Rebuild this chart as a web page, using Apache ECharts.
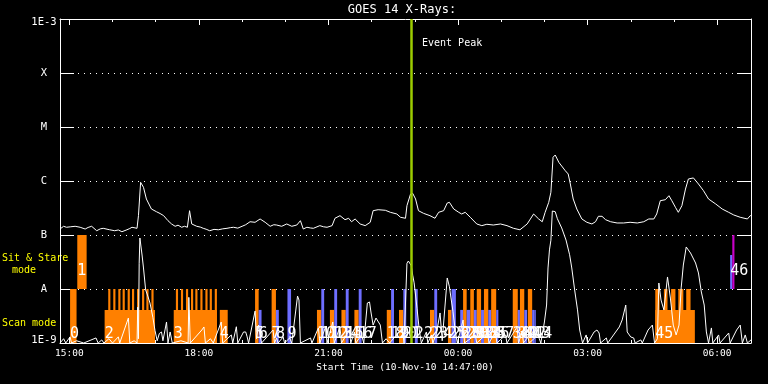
<!DOCTYPE html>
<html><head><meta charset="utf-8">
<script src="https://cdn.jsdelivr.net/npm/echarts@6/dist/echarts.min.js"></script>
<style>html,body{margin:0;padding:0;background:#000}#c{width:768px;height:384px}</style>
</head><body><div id="c"></div>
<script>
// ---------- DATA ----------
const titleText = "GOES 14 X-Rays:";
const xAxisTitle = "Start Time (10-Nov-10 14:47:00)";
const axisStart = "14:47", axisEnd = "06:47";
const xTickLabels = ["15:00","18:00","21:00","00:00","03:00","06:00"];
const xMinorTicks = ["15:00","16:00","17:00","18:00","19:00","20:00","21:00","22:00","23:00","00:00","01:00","02:00","03:00","04:00","05:00","06:00"];
const yClassLabels = {"-3":"1E-3","-4":"X","-5":"M","-6":"C","-7":"B","-8":"A","-9":"1E-9"};
const eventPeakTime = "22:55";

// GOES 1-8 A flux (W/m^2)
const fluxTimes = ["14:47","14:52","14:56","15:02","15:08","15:15","15:22","15:26","15:31","15:38","15:43","15:47","15:56","16:03","16:08","16:13","16:20","16:24","16:27","16:34","16:36","16:39","16:43","16:47","16:54","17:01","17:06","17:11","17:17","17:22","17:27","17:31","17:36","17:40","17:44","17:47","17:50","17:57","18:02","18:06","18:10","18:15","18:21","18:27","18:33","18:39","18:44","18:48","18:54","19:00","19:05","19:11","19:18","19:25","19:32","19:39","19:44","19:48","19:55","20:02","20:09","20:16","20:21","20:25","20:30","20:35","20:39","20:48","20:53","20:58","21:05","21:09","21:16","21:23","21:28","21:32","21:37","21:44","21:51","21:58","22:02","22:09","22:19","22:26","22:35","22:40","22:47","22:49","22:54","22:57","23:01","23:05","23:12","23:21","23:28","23:33","23:40","23:45","23:48","23:54","00:01","00:05","00:10","00:17","00:26","00:33","00:40","00:49","00:59","01:08","01:17","01:26","01:36","01:45","01:52","01:57","02:01","02:06","02:09","02:12","02:15","02:20","02:29","02:33","02:36","02:40","02:45","02:52","02:59","03:06","03:11","03:15","03:20","03:25","03:32","03:41","03:50","03:59","04:09","04:18","04:25","04:32","04:36","04:41","04:48","04:53","04:57","05:02","05:06","05:11","05:16","05:20","05:27","05:34","05:41","05:48","05:58","06:07","06:16","06:23","06:32","06:42","06:46","06:47"];
const fluxValues = [1.29e-7,1.45e-7,1.39e-7,1.42e-7,1.45e-7,1.39e-7,1.29e-7,1.38e-7,1.45e-7,1.2e-7,1.3e-7,1.33e-7,1.25e-7,1.2e-7,1.24e-7,1.15e-7,1.25e-7,1.32e-7,1.39e-7,1.33e-7,2.28e-7,9.46e-7,7.64e-7,4.64e-7,3.03e-7,2.7e-7,2.5e-7,2.28e-7,1.84e-7,1.6e-7,1.45e-7,1.52e-7,1.39e-7,1.45e-7,1.39e-7,2.82e-7,1.6e-7,1.45e-7,1.4e-7,1.33e-7,1.28e-7,1.2e-7,1.27e-7,1.25e-7,1.3e-7,1.33e-7,1.37e-7,1.39e-7,1.34e-7,1.45e-7,1.55e-7,1.76e-7,1.72e-7,1.98e-7,1.72e-7,1.45e-7,1.55e-7,1.53e-7,1.45e-7,1.6e-7,1.45e-7,1.53e-7,1.84e-7,1.29e-7,1.39e-7,1.35e-7,1.33e-7,1.49e-7,1.42e-7,1.39e-7,1.49e-7,2.04e-7,2.28e-7,1.92e-7,2.04e-7,1.76e-7,1.98e-7,1.6e-7,1.49e-7,1.72e-7,2.82e-7,2.94e-7,2.87e-7,2.63e-7,2.45e-7,2.13e-7,2.04e-7,3.49e-7,5.74e-7,5.91e-7,4.64e-7,2.82e-7,2.52e-7,2.28e-7,2.04e-7,2.63e-7,2.82e-7,3.91e-7,4.03e-7,3.03e-7,2.63e-7,2.45e-7,2.63e-7,2.13e-7,1.6e-7,1.49e-7,1.58e-7,1.53e-7,1.6e-7,1.49e-7,1.33e-7,1.25e-7,1.6e-7,2.45e-7,1.98e-7,1.76e-7,2.63e-7,4.03e-7,6.18e-7,2.75e-6,3.03e-6,2.22e-6,1.55e-6,1.35e-6,8.8e-7,4.64e-7,3.03e-7,1.98e-7,1.72e-7,1.6e-7,1.76e-7,2.22e-7,2.22e-7,1.92e-7,1.76e-7,1.67e-7,1.67e-7,1.72e-7,1.67e-7,1.76e-7,1.98e-7,1.98e-7,2.45e-7,4.32e-7,4.5e-7,5.34e-7,4.32e-7,3.26e-7,2.63e-7,3.49e-7,7.1e-7,1.09e-6,1.14e-6,8.8e-7,6.61e-7,4.64e-7,3.75e-7,3.03e-7,2.63e-7,2.35e-7,2.13e-7,1.98e-7,2.28e-7,2.28e-7];

// second (detail) curve drawn in the lower panel
const detailTimes = ["14:47","14:52","14:55","15:01","15:03","15:10","15:20","15:37","15:40","15:45","15:48","15:55","16:00","16:08","16:10","16:22","16:24","16:30","16:34","16:35","16:36","16:37","16:38","16:41","16:43","16:46","16:49","16:52","16:56","16:59","17:02","17:05","17:08","17:10","17:15","17:17","17:20","17:23","17:35","17:45","17:46","17:48","18:04","18:07","18:09","18:16","18:20","18:31","18:33","18:45","18:47","18:52","18:54","19:02","19:05","19:07","19:09","19:18","19:20","19:23","19:25","19:27","19:43","19:45","19:48","19:50","19:57","19:59","20:06","20:09","20:17","20:19","20:21","20:35","20:37","20:46","20:48","20:56","20:58","21:06","21:08","21:12","21:16","21:18","21:29","21:31","21:36","21:38","21:46","21:49","21:54","21:57","21:59","22:02","22:06","22:12","22:15","22:20","22:25","22:43","22:45","22:49","22:51","22:53","22:55","22:57","22:59","23:03","23:06","23:09","23:16","23:18","23:23","23:25","23:30","23:35","23:38","23:45","23:48","23:50","23:53","23:56","23:59","00:07","00:09","00:24","00:26","00:41","00:43","00:52","00:54","01:06","01:08","01:22","01:24","01:29","01:31","01:37","01:39","01:51","01:55","02:00","02:03","02:05","02:07","02:09","02:11","02:15","02:18","02:24","02:30","02:35","02:38","02:42","02:46","02:49","02:53","02:58","03:00","03:09","03:13","03:16","03:18","03:26","03:28","03:44","03:48","03:53","03:55","04:00","04:04","04:06","04:14","04:16","04:24","04:30","04:33","04:37","04:39","04:42","04:46","04:51","04:55","04:59","05:03","05:07","05:10","05:13","05:17","05:23","05:30","05:34","05:38","05:42","05:45","05:48","05:52","05:54","06:02","06:04","06:16","06:18","06:27","06:32","06:35","06:39","06:42","06:47"];
const detailValues = [1.0e-9,1.2e-9,1.0e-9,1.3e-9,1.0e-9,1.1e-9,1.0e-9,1.24e-9,1.0e-9,1.14e-9,1.0e-9,1.2e-9,1.0e-9,1.3e-9,1.0e-9,2.9e-9,1.0e-9,1.1e-9,1.0e-9,4.6e-9,1.2e-9,3.0e-8,8.8e-8,4.26e-8,2.45e-8,9.6e-9,7.4e-9,5.5e-9,3.0e-9,1.7e-9,1.1e-9,1.5e-9,1.6e-9,1.1e-9,2.45e-9,1.0e-9,1.6e-9,1.0e-9,1.1e-9,1.0e-9,7.0e-9,1.0e-9,1.74e-9,1.98e-9,1.0e-9,1.2e-9,1.0e-9,2.45e-9,1.0e-9,1.41e-9,1.0e-9,2.0e-9,1.0e-9,1.6e-9,1.6e-9,1.3e-9,1.0e-9,3.9e-9,1.2e-9,2.15e-9,1.4e-9,1.0e-9,1.74e-9,1.0e-9,1.24e-9,1.0e-9,1.29e-9,1.0e-9,1.24e-9,1.0e-9,7.4e-9,6.25e-9,1.0e-9,1.24e-9,1.0e-9,1.9e-9,1.0e-9,2.0e-9,1.0e-9,2.45e-9,1.0e-9,1.41e-9,2.0e-9,1.0e-9,1.74e-9,1.0e-9,1.6e-9,1.0e-9,1.41e-9,1.0e-9,5.5e-9,5.75e-9,3.75e-9,2.15e-9,2.9e-9,2.15e-9,1.0e-9,1.2e-9,1.0e-9,1.9e-9,1.0e-9,3.0e-8,3.3e-8,3.1e-8,2.7e-8,1.8e-8,1.3e-8,4.4e-9,1.8e-9,1.0e-9,1.6e-9,1.0e-9,1.41e-9,1.0e-9,1.5e-9,3.6e-9,1.1e-9,1.6e-8,1.1e-8,7.1e-9,3.8e-9,1.74e-9,1.0e-9,2.67e-9,1.0e-9,1.41e-9,1.0e-9,1.53e-9,1.0e-9,1.6e-9,1.0e-9,1.41e-9,1.0e-9,1.98e-9,1.0e-9,1.6e-9,1.0e-9,1.29e-9,1.0e-9,1.41e-9,1.0e-9,2.45e-9,5.05e-9,2.45e-8,5.3e-8,8.0e-8,2.78e-7,2.7e-7,2.0e-7,1.35e-7,8.07e-8,4.3e-8,2.45e-8,9.6e-9,4.1e-9,1.74e-9,1.0e-9,1.41e-9,1.0e-9,1.6e-9,1.74e-9,1.53e-9,1.0e-9,1.24e-9,1.0e-9,1.98e-9,2.67e-9,5.05e-9,1.6e-9,1.29e-9,1.24e-9,1.0e-9,1.14e-9,1.0e-9,1.74e-9,2.15e-9,1.0e-9,1.2e-9,1.29e-8,6.25e-9,4.1e-9,1.67e-8,6.8e-9,2.15e-9,1.41e-9,2.15e-9,1.05e-8,2.78e-8,6.0e-8,4.64e-8,3.03e-8,1.98e-8,8.8e-9,5.05e-9,1.6e-9,1.0e-9,1.9e-9,1.0e-9,1.41e-9,1.0e-9,1.53e-9,1.0e-9,1.74e-9,2.15e-9,1.0e-9,1.41e-9,1.0e-9,1.14e-9];

// observation bars: start, end, lower flux, upper flux, kind
const barStart = ["15:01","15:11","15:49","15:54","16:01","16:08","16:14","16:21","16:27","16:34","16:41","16:47","16:54","17:25","17:28","17:35","17:42","17:49","17:55","18:02","18:09","18:15","18:22","18:29","19:18","19:23","19:41","19:47","20:03","20:44","20:50","21:02","21:08","21:18","21:24","21:36","21:42","22:21","22:27","22:38","22:44","23:00","23:21","23:27","23:46","23:51","00:03","00:07","00:12","00:17","00:22","00:26","00:32","00:36","00:42","00:46","00:53","01:16","01:23","01:26","01:32","01:37","01:43","01:46","04:34","04:34","04:46","04:56","05:06","05:17","06:18","06:21"];
const barEnd   = ["15:10","15:24","16:59","15:57","16:04","16:11","16:17","16:24","16:30","16:37","16:44","16:50","16:57","18:25","17:31","17:38","17:45","17:52","17:58","18:05","18:12","18:18","18:25","18:40","19:23","19:27","19:47","19:51","20:08","20:50","20:54","21:08","21:12","21:24","21:28","21:42","21:46","22:27","22:31","22:44","22:48","23:04","23:27","23:31","23:51","23:57","00:07","00:12","00:17","00:22","00:26","00:32","00:36","00:42","00:46","00:53","00:56","01:23","01:26","01:32","01:36","01:43","01:46","01:48","05:29","04:40","04:51","05:02","05:13","05:23","06:21","06:24"];
const barLow   = [1e-9,1e-8,1e-9,1e-9,1e-9,1e-9,1e-9,1e-9,1e-9,1e-9,1e-9,1e-9,1e-9,1e-9,1e-9,1e-9,1e-9,1e-9,1e-9,1e-9,1e-9,1e-9,1e-9,1e-9,1e-9,1e-9,1e-9,1e-9,1e-9,1e-9,1e-9,1e-9,1e-9,1e-9,1e-9,1e-9,1e-9,1e-9,1e-9,1e-9,1e-9,1e-9,1e-9,1e-9,1e-9,1e-9,1e-9,1e-9,1e-9,1e-9,1e-9,1e-9,1e-9,1e-9,1e-9,1e-9,1e-9,1e-9,1e-9,1e-9,1e-9,1e-9,1e-9,1e-9,1e-9,1e-9,1e-9,1e-9,1e-9,1e-9,1e-8,1e-8];
const barHigh  = [1e-8,1e-7,4.1e-9,1e-8,1e-8,1e-8,1e-8,1e-8,1e-8,1e-8,1e-8,1e-8,1e-8,4.1e-9,1e-8,1e-8,1e-8,1e-8,1e-8,1e-8,1e-8,1e-8,1e-8,4.1e-9,1e-8,4.1e-9,1e-8,4.1e-9,1e-8,4.1e-9,1e-8,4.1e-9,1e-8,4.1e-9,1e-8,4.1e-9,1e-8,4.1e-9,1e-8,4.1e-9,1e-8,1e-8,4.1e-9,1e-8,4.1e-9,1e-8,4.1e-9,1e-8,4.1e-9,1e-8,4.1e-9,1e-8,4.1e-9,1e-8,4.1e-9,1e-8,4.1e-9,1e-8,4.1e-9,1e-8,4.1e-9,1e-8,4.1e-9,4.1e-9,4.1e-9,1e-8,1e-8,1e-8,1e-8,1e-8,4.26e-8,1e-7];
const barKind  = ["scan","scan","scan","scan","scan","scan","scan","scan","scan","scan","scan","scan","scan","scan","scan","scan","scan","scan","scan","scan","scan","scan","scan","scan","scan","alt","scan","alt","alt","scan","alt","scan","alt","scan","alt","scan","alt","scan","alt","scan","alt","alt","scan","alt","scan","alt","alt","scan","alt","scan","alt","scan","alt","scan","alt","scan","alt","scan","alt","scan","alt","scan","alt","alt","scan","scan","scan","scan","scan","scan","alt","sit"];

// observation number labels
const labelText = ["0","1","2","3","4","5","6","7","8","9","10","11","12","13","14","15","16","17","18","19","20","21","22","23","24","25","26","27","28","29","30","31","32","33","34","35","36","37","38","39","40","41","42","43","44","45","46"];
const labelTime = ["15:01","15:11","15:49","17:25","18:29","19:18","19:23","19:41","19:47","20:03","20:44","20:50","21:02","21:08","21:18","21:24","21:36","21:42","22:21","22:27","22:38","22:44","23:00","23:21","23:27","23:46","23:51","00:03","00:07","00:12","00:17","00:22","00:26","00:32","00:36","00:42","00:46","00:53","01:16","01:23","01:26","01:32","01:37","01:43","01:46","04:34","06:18"];
const labelMode = ["scan","sit","scan","scan","scan","scan","scan","scan","scan","scan","scan","scan","scan","scan","scan","scan","scan","scan","scan","scan","scan","scan","scan","scan","scan","scan","scan","scan","scan","scan","scan","scan","scan","scan","scan","scan","scan","scan","scan","scan","scan","scan","scan","scan","scan","scan","sit"];
const labelFluxByMode = {scan: 1.47e-9, sit: 2.1e-8};

// ---------- HELPERS ----------
function toMin(t){ const p=t.split(':').map(Number); let v=p[0]*60+p[1]-900; if(p[0]<12) v+=1440; return v; }
function fmtTime(v){ let t=((v+900)%1440+1440)%1440; const h=Math.floor(t/60), m=Math.round(t%60); return String(h).padStart(2,'0')+':'+String(m).padStart(2,'0'); }
const FONT = '"DejaVu Sans Mono", monospace';
const WHITE = '#ffffff';
const KIND_COLOR = {scan:'#ff8000', alt:'#6e6eff', sit:'#c800c8'};
const X_MIN = toMin(axisStart), X_MAX = toMin(axisEnd);

const fluxData = fluxTimes.map((t,i)=>[toMin(t), fluxValues[i]]);
const detailData = detailTimes.map((t,i)=>[toMin(t), detailValues[i]]);
const barData = barStart.map((s,i)=>({value:[toMin(s), toMin(barEnd[i]), barLow[i], barHigh[i]], itemStyle:{color:KIND_COLOR[barKind[i]]}}));
const labelData = labelTime.map((t,i)=>[toMin(t), labelFluxByMode[labelMode[i]]]);

const majorVals = xTickLabels.map(toMin);
const minorVals = xMinorTicks.map(toMin);

function xAxisDef(pos, ticks, len, showLine, showLabel){
  return {type:'value', position:pos, min:X_MIN, max:X_MAX,
    axisLine:{show:showLine, onZero:false, lineStyle:{color:WHITE, width:1}},
    axisTick:{show:true, inside:true, length:len, customValues:ticks, lineStyle:{color:WHITE, width:1}},
    axisLabel:{show:showLabel, customValues:ticks, formatter:fmtTime, color:WHITE, fontFamily:FONT, fontSize:9.5, margin:6},
    splitLine:{show:false}};
}

const chart = echarts.init(document.getElementById('c'), null, {renderer:'canvas'});
chart.setOption({
  backgroundColor:'#000000',
  animation:false,
  grid:{left:60, right:17, top:19, bottom:41, containLabel:false},
  xAxis:[
    xAxisDef('bottom', majorVals, 6, true, true),
    xAxisDef('bottom', minorVals, 3, false, false),
    xAxisDef('top', majorVals, 6, true, false),
    xAxisDef('top', minorVals, 3, false, false)
  ],
  yAxis:[
    {type:'log', logBase:10, min:1e-9, max:1e-3, position:'left',
     axisLine:{show:true, onZero:false, lineStyle:{color:WHITE, width:1}},
     axisTick:{show:true, inside:true, length:14, lineStyle:{color:WHITE, width:1}},
     axisLabel:{color:WHITE, fontFamily:FONT, fontSize:10.5, align:'center', margin:16,
       formatter:function(v){ const e=Math.round(Math.log10(v)); const s=yClassLabels[String(e)]||''; if(e===-3) return '{t|'+s+'}'; if(e===-9) return '{b|'+s+'}'; return s; },
       rich:{t:{color:WHITE, fontFamily:FONT, fontSize:10.5, padding:[7,0,0,0]}, b:{color:WHITE, fontFamily:FONT, fontSize:10.5, padding:[0,0,6,0]}}},
     splitLine:{show:true, lineStyle:{color:WHITE, width:1, type:[1,5]}}},
    {type:'log', logBase:10, min:1e-9, max:1e-3, position:'right',
     axisLine:{show:true, onZero:false, lineStyle:{color:WHITE, width:1}},
     axisTick:{show:true, inside:true, length:14, lineStyle:{color:WHITE, width:1}},
     axisLabel:{show:false}, splitLine:{show:false}}
  ],
  graphic:[
    {type:'text', x:402, y:10, style:{text:titleText, fill:WHITE, font:'12px '+FONT, align:'center', verticalAlign:'middle'}},
    {type:'text', x:405, y:368, style:{text:xAxisTitle, fill:WHITE, font:'9.5px '+FONT, align:'center', verticalAlign:'middle'}},
    {type:'text', x:422, y:43, style:{text:'Event Peak', fill:WHITE, font:'10px '+FONT, align:'left', verticalAlign:'middle'}},
    {type:'text', x:2, y:258, style:{text:'Sit & Stare', fill:'#ffff00', font:'10px '+FONT, align:'left', verticalAlign:'middle'}},
    {type:'text', x:12, y:270, style:{text:'mode', fill:'#ffff00', font:'10px '+FONT, align:'left', verticalAlign:'middle'}},
    {type:'text', x:2, y:323, style:{text:'Scan mode', fill:'#ffff00', font:'10px '+FONT, align:'left', verticalAlign:'middle'}}
  ],
  series:[
    {type:'custom', name:'observations', xAxisIndex:0, yAxisIndex:0, data:barData, encode:{x:[0,1], y:[2,3]},
     renderItem:function(params, api){
       const a = api.coord([api.value(0), api.value(3)]);
       const b = api.coord([api.value(1), api.value(2)]);
       return {type:'rect', shape:{x:a[0], y:a[1], width:b[0]-a[0], height:b[1]-a[1]}, style:{fill:api.visual('color')}};
     }, z:2},
    {type:'custom', name:'labels', xAxisIndex:0, yAxisIndex:0, data:labelData, encode:{x:0, y:1}, clip:false,
     renderItem:function(params, api){
       const p = api.coord([api.value(0), api.value(1)]);
       return {type:'text', x:p[0], y:p[1], style:{text:labelText[params.dataIndex], fill:WHITE, font:'15px '+FONT, align:'left', verticalAlign:'middle'}};
     }, z:3},
    {type:'line', name:'detail', xAxisIndex:0, yAxisIndex:0, data:detailData, showSymbol:false, symbol:'none',
     lineStyle:{color:WHITE, width:1}, z:4},
    {type:'line', name:'flux', xAxisIndex:0, yAxisIndex:0, data:fluxData, showSymbol:false, symbol:'none',
     lineStyle:{color:WHITE, width:1}, z:4},
    {type:'line', name:'event', xAxisIndex:0, yAxisIndex:0, data:[], z:6,
     markLine:{silent:true, symbol:'none', label:{show:false},
       lineStyle:{color:'#9ccc00', width:2.5, type:'solid'},
       data:[{xAxis:toMin(eventPeakTime)}]}}
  ]
});
</script>
</body></html>
